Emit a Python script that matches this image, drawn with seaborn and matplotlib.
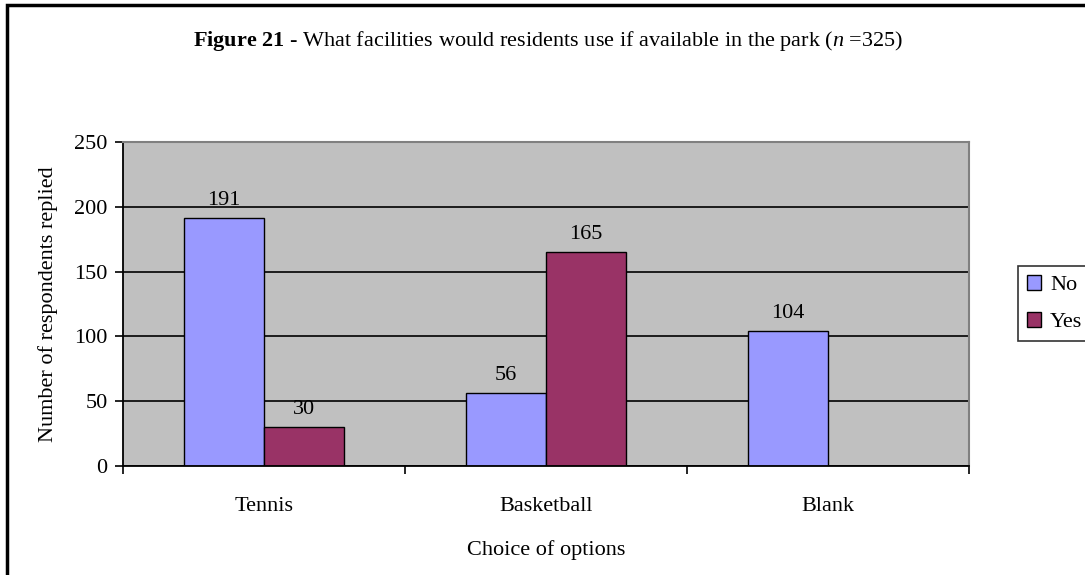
import matplotlib
matplotlib.use("Agg")
import matplotlib.pyplot as plt
import seaborn as sns
import pandas as pd
import numpy as np
from matplotlib.patches import Patch, Rectangle

categories = ["Tennis", "Basketball", "Blank"]
no_values = [191, 56, 104]
yes_values = [30, 165, np.nan]
series = ["No", "Yes"]
yticks = [0, 50, 100, 150, 200, 250]

sns.set_theme(style="white")
plt.rcParams['font.family'] = ['Liberation Serif', 'DejaVu Serif']
plt.rcParams['mathtext.fontset'] = 'custom'
plt.rcParams['mathtext.rm'] = 'Liberation Serif'
plt.rcParams['mathtext.bf'] = 'Liberation Serif:bold'
plt.rcParams['mathtext.it'] = 'Liberation Serif:italic'
for k in ['text.color', 'axes.labelcolor', 'xtick.color', 'ytick.color']:
    plt.rcParams[k] = 'black'

FS = 16

df = pd.DataFrame({
    "Choice": categories * 2,
    "Answer": ["No"] * 3 + ["Yes"] * 3,
    "Count": no_values + yes_values,
})

colors = {"No": "#9999FF", "Yes": "#993366"}

fig = plt.figure(figsize=(10.85, 5.75), dpi=100)
ax = fig.add_axes([123/1085, 1-466/575, (969-123)/1085, (466-142)/575])
ax.set_facecolor("#C0C0C0")

sns.barplot(data=df, x="Choice", y="Count", hue="Answer", hue_order=series,
            order=categories, palette=colors, width=0.567, edgecolor="black",
            linewidth=1.0, ax=ax, legend=False, saturation=1)

for c in ax.containers:
    labels = ["" if np.isnan(v) else f"{int(v)}" for v in c.datavalues]
    ax.bar_label(c, labels=labels, padding=6, fontsize=FS, color="black")

ax.set_ylim(0, 250)
ax.set_xlim(-0.5, 2.5)
ax.set_yticks(yticks)
ax.set_yticklabels([str(t) for t in yticks], fontsize=FS)
ax.yaxis.grid(True, color="black", linewidth=1.2)
ax.set_axisbelow(True)
ax.tick_params(axis="y", direction="out", length=6, width=1.2, color="black", pad=5, left=True)
ax.set_xticks([0, 1, 2])
ax.set_xticklabels(categories, fontsize=FS)
ax.tick_params(axis="x", which="major", length=0, pad=22)
ax.set_xticks([-0.5, 0.5, 1.5, 2.5], minor=True)
ax.tick_params(axis="x", which="minor", direction="out", length=6, width=1.2, color="black", bottom=True)

for s in ["left", "bottom"]:
    ax.spines[s].set_color("black")
    ax.spines[s].set_linewidth(1.3)
for s in ["top", "right"]:
    ax.spines[s].set_color("#808080")
    ax.spines[s].set_linewidth(1.5)

ax.set_xlabel("Choice of options", fontsize=FS, labelpad=18)
ax.set_ylabel("Number of respondents replied", fontsize=FS, labelpad=12)

fig.text(0.505, 1-41/575,
         r"$\mathbf{Figure\ 21}$ - What facilities would residents use if available in the park ($\mathit{n}$ =325)",
         ha="center", va="center", fontsize=FS)

handles = [Patch(facecolor=colors[s], edgecolor="black", linewidth=1.0, label=s) for s in series]
leg = fig.legend(handles=handles, loc="upper left", bbox_to_anchor=(1018/1085, 1-266/575),
                 fontsize=FS, frameon=True, fancybox=False, edgecolor="black",
                 handlelength=0.65, handleheight=0.65, handletextpad=0.4, borderpad=0.4,
                 labelspacing=0.75, borderaxespad=0)
leg.get_frame().set_linewidth(1.2)

fig.patches.append(Rectangle((7/1085, -0.1), 1.2, 1.1 - 5/575, transform=fig.transFigure,
                             fill=False, edgecolor="black", linewidth=2.5))

fig.savefig("out.png", dpi=100, facecolor="white")
